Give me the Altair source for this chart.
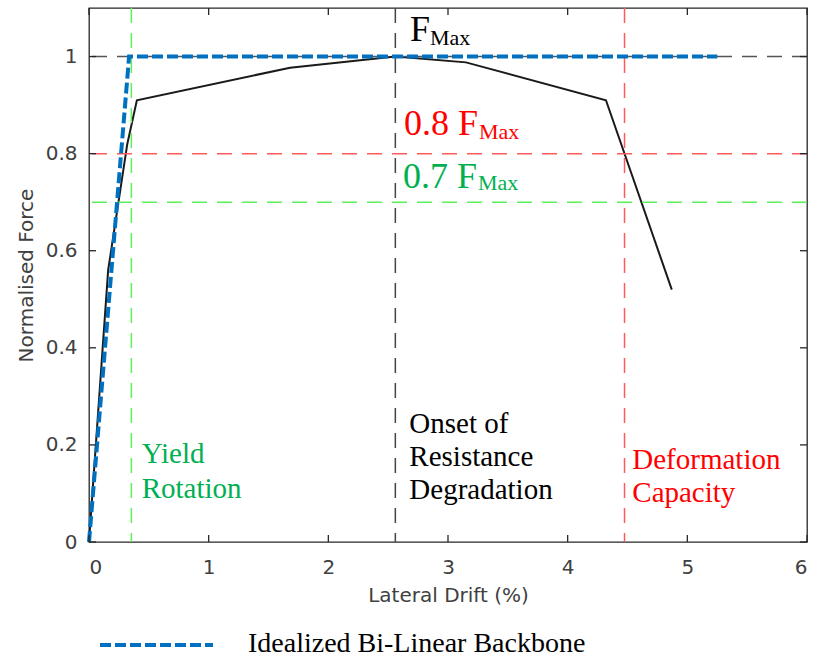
import altair as alt
import pandas as pd

# ---- data ----
drift_actual = [0.0, 0.16, 0.32, 0.40, 1.68, 2.56, 3.15, 4.32, 4.87]
force_actual = [0.0, 0.56, 0.82, 0.91, 0.977, 1.0, 0.988, 0.91, 0.52]

drift_bilinear = [0.0, 0.335, 5.25]
force_bilinear = [0.0, 1.0, 1.0]

h_levels = [1.0, 0.8, 0.7]
h_colors = ["#555555", "#ff5a5a", "#5cf05c"]
v_levels = [0.354, 2.56, 4.475]
v_colors = ["#5cf05c", "#444444", "#ff5a5a"]

x_ticks = [0, 1, 2, 3, 4, 5, 6]
y_ticks = [0, 0.2, 0.4, 0.6, 0.8, 1]

ann_text = ["F", "Max", "0.8 F", "Max", "0.7 F", "Max",
            "Yield", "Rotation",
            "Onset of", "Resistance", "Degradation",
            "Deformation", "Capacity"]
ann_x = [2.682, 2.849, 2.632, 3.259, 2.624, 3.251,
         0.440, 0.440,
         2.677, 2.677, 2.677,
         4.540, 4.540]
ann_y = [1.0327, 1.0238, 0.8384, 0.8295, 0.7298, 0.7251,
         0.1621, 0.0900,
         0.2252, 0.1566, 0.0880,
         0.1498, 0.0830]
ann_color = ["#000000", "#000000", "#ff0000", "#ff0000", "#00b050", "#00b050",
             "#00b050", "#00b050",
             "#000000", "#000000", "#000000",
             "#ff0000", "#ff0000"]
ann_size = [36, 22, 36, 22, 36, 22, 29, 29, 29, 29, 29, 29, 29]

legend_label = "Idealized Bi-Linear Backbone"

W, H = 718, 534

xscale = alt.Scale(domain=[0, 6], nice=False, zero=False)
yscale = alt.Scale(domain=[0, 1.1], nice=False, zero=False)

axis_common = dict(labelFont="DejaVu Sans", labelFontSize=20, labelColor="#404040",
                   titleFont="DejaVu Sans", titleFontSize=20, titleColor="#404040",
                   titleFontWeight="normal", ticks=False, domain=False, grid=False)

df_act = pd.DataFrame({"x": drift_actual, "y": force_actual})
df_bil = pd.DataFrame({"x": drift_bilinear, "y": force_bilinear})
df_h = pd.DataFrame({"y": h_levels, "c": h_colors})
df_v = pd.DataFrame({"x": v_levels, "c": v_colors})
df_xt = pd.DataFrame({"x": x_ticks})
df_yt = pd.DataFrame({"y": y_ticks})
df_ann = pd.DataFrame({"t": ann_text, "x": ann_x, "y": ann_y, "c": ann_color, "s": ann_size})

base_x = alt.X("x:Q", scale=xscale,
               axis=alt.Axis(values=x_ticks, format="d", title="Lateral Drift (%)",
                             labelPadding=15, titlePadding=8, **axis_common))
base_y = alt.Y("y:Q", scale=yscale,
               axis=alt.Axis(values=y_ticks, format="~g", title="Normalised Force",
                             labelPadding=12, titlePadding=9, **axis_common))

hl = alt.Chart(df_h).mark_rule(strokeWidth=1.5, strokeDash=[15, 10]).encode(
    y=alt.Y("y:Q", scale=yscale), color=alt.Color("c:N", scale=None))
vl = alt.Chart(df_v).mark_rule(strokeWidth=1.5, strokeDash=[15, 10]).encode(
    x=alt.X("x:Q", scale=xscale), color=alt.Color("c:N", scale=None))

actual = alt.Chart(df_act).mark_line(color="#1a1a1a", strokeWidth=2).encode(
    x=base_x, y=base_y, order="x:Q")
bil = alt.Chart(df_bil).mark_line(color="#0070c0", strokeWidth=4, strokeDash=[11, 4]).encode(
    x=alt.X("x:Q", scale=xscale), y=alt.Y("y:Q", scale=yscale), order="x:Q")

tick_col = "#262626"
tb = alt.Chart(df_xt).mark_rule(color=tick_col, strokeWidth=1.3).encode(
    x=alt.X("x:Q", scale=xscale), y=alt.value(H), y2=alt.value(H - 7))
tt = alt.Chart(df_xt).mark_rule(color=tick_col, strokeWidth=1.3).encode(
    x=alt.X("x:Q", scale=xscale), y=alt.value(0), y2=alt.value(7))
tl = alt.Chart(df_yt).mark_rule(color=tick_col, strokeWidth=1.3).encode(
    y=alt.Y("y:Q", scale=yscale), x=alt.value(0), x2=alt.value(7))
tr = alt.Chart(df_yt).mark_rule(color=tick_col, strokeWidth=1.3).encode(
    y=alt.Y("y:Q", scale=yscale), x=alt.value(W), x2=alt.value(W - 7))

ann = alt.Chart(df_ann).mark_text(align="left", baseline="alphabetic",
                                  font="Liberation Serif").encode(
    x=alt.X("x:Q", scale=xscale), y=alt.Y("y:Q", scale=yscale),
    text="t:N", color=alt.Color("c:N", scale=None), size=alt.Size("s:Q", scale=None))

leg_line = alt.Chart().mark_rule(color="#0070c0", strokeWidth=4, strokeDash=[11, 4]).encode(
    x=alt.value(11), x2=alt.value(124), y=alt.value(637))
leg_text = alt.Chart().mark_text(align="left", baseline="alphabetic", font="Liberation Serif",
                                 fontSize=28, color="#000000").encode(
    x=alt.value(159), y=alt.value(644), text=alt.value(legend_label))

chart = alt.layer(actual, hl, vl, bil, tb, tt, tl, tr, ann, leg_line, leg_text).properties(
    width=W, height=H,
    autosize=alt.AutoSizeParams(type="none"),
    padding={"left": 89, "top": 8, "right": 10, "bottom": 118},
    background="white",
).configure_view(stroke="#262626", strokeWidth=1.3)

chart.save("out.html", embed_options={"renderer": "svg", "actions": False})
